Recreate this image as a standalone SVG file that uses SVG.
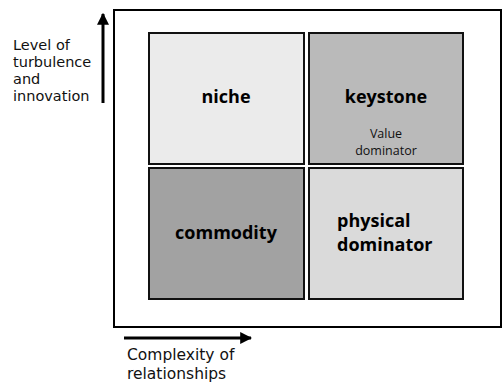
<svg xmlns="http://www.w3.org/2000/svg" width="503" height="384" viewBox="0 0 503 384">
  <defs>
    <marker id="head" viewBox="0 0 10 10" refX="9" refY="5" markerWidth="4" markerHeight="4" orient="auto" markerUnits="strokeWidth">
      <path d="M0,0 L10,5 L0,10 Z" fill="#000"/>
    </marker>
    <style>
      .frame { fill: #fff; stroke: #000; stroke-width: 2; }
      .box { stroke: #111; stroke-width: 2; }
      .axis { stroke: #000; stroke-width: 3; fill: none; }
      .lbl { font-family: "DejaVu Sans", "Noto Sans", sans-serif; font-size: 14.5px; fill: #111; }
      .xlbl { font-family: "DejaVu Sans", "Noto Sans", sans-serif; font-size: 15.5px; fill: #111; }
      .big { font-family: "Open Sans", "Noto Sans", sans-serif; font-size: 18px; font-weight: bold; fill: #000; }
      .small { font-family: "Open Sans", "Noto Sans", sans-serif; font-size: 12.5px; fill: #111; }
    </style>
  </defs>
  <rect width="503" height="384" fill="#fff"/>

  <!-- outer frame of the matrix -->
  <rect class="frame" x="114" y="10" width="387" height="317"/>

  <!-- axes -->
  <g id="connectors">
    <line class="axis" x1="103" y1="103" x2="103" y2="14" marker-end="url(#head)"/>
    <line class="axis" x1="124" y1="338" x2="251" y2="338" marker-end="url(#head)"/>
  </g>

  <g id="y-label">
    <text class="lbl" x="13" y="50">Level of</text>
    <text class="lbl" x="13" y="67">turbulence</text>
    <text class="lbl" x="13" y="84">and</text>
    <text class="lbl" x="13" y="101">innovation</text>
  </g>

  <g id="x-label">
    <text class="xlbl" x="127" y="360">Complexity of</text>
    <text class="xlbl" x="127" y="379">relationships</text>
  </g>

  <g id="niche">
    <rect class="box" x="149" y="33" width="155" height="131" fill="#ebebeb"/>
    <text class="big" x="226" y="103" text-anchor="middle">niche</text>
  </g>

  <g id="keystone">
    <rect class="box" x="309" y="33" width="154" height="131" fill="#bababa"/>
    <text class="big" x="386" y="103" text-anchor="middle">keystone</text>
    <text class="small" x="386" y="138" text-anchor="middle">Value</text>
    <text class="small" x="386" y="155" text-anchor="middle">dominator</text>
  </g>

  <g id="commodity">
    <rect class="box" x="149" y="168" width="155" height="131" fill="#a2a2a2"/>
    <text class="big" x="226" y="239" text-anchor="middle">commodity</text>
  </g>

  <g id="physical-dominator">
    <rect class="box" x="309" y="168" width="154" height="131" fill="#dadada"/>
    <text class="big" x="337" y="227">physical</text>
    <text class="big" x="337" y="251">dominator</text>
  </g>
</svg>
